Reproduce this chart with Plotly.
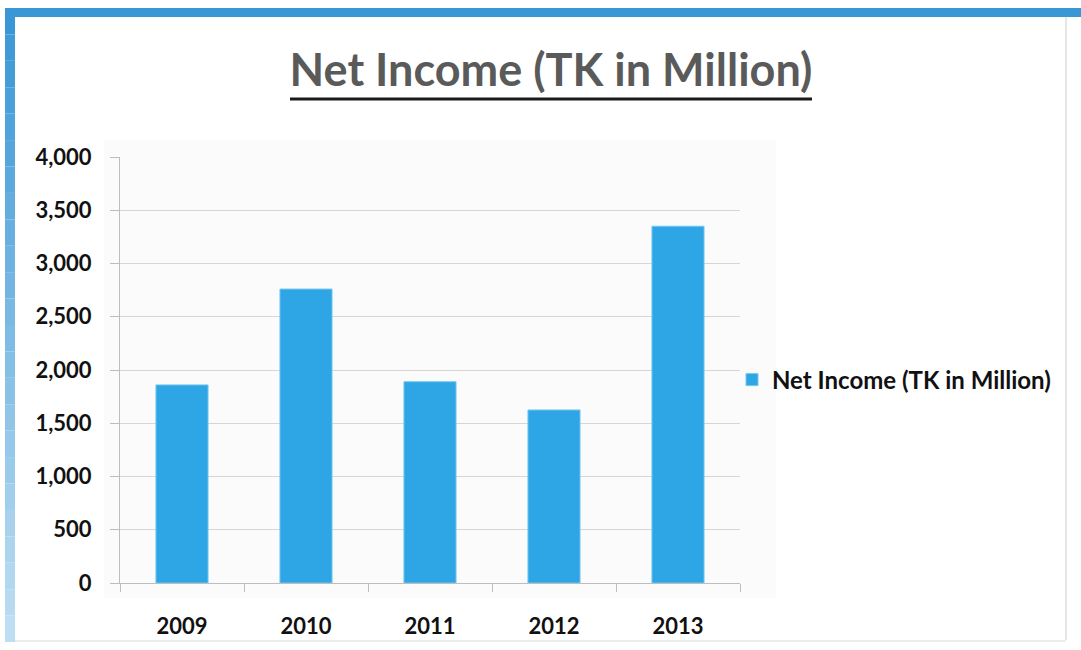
import plotly.graph_objects as go

# Net income by year (TK in million)
years = ["2009", "2010", "2011", "2012", "2013"]
net_income = [1860, 2760, 1890, 1625, 3350]
y_ticks = [0, 500, 1000, 1500, 2000, 2500, 3000, 3500, 4000]
y_tick_text = ["0", "500", "1,000", "1,500", "2,000", "2,500", "3,000", "3,500", "4,000"]

W, H = 1081, 650
L, R, T, B = 120, 341, 157, 67  # plot-area margins in px
pw, ph = W - L - R, H - T - B


def px_x(x):
    return (x - L) / pw


def px_y(y):
    return (H - B - y) / ph


FONT = "Lato"
BAR = "#2ea6e6"
FRAME = "#3a97d6"

fig = go.Figure()
fig.add_trace(go.Bar(
    x=years, y=net_income, name="Net Income (TK in Million)",
    marker=dict(color=BAR, line=dict(color="#74c8f0", width=1)),
    width=0.42,
))

shapes = [
    # chart area background
    dict(type="rect", xref="paper", yref="paper", layer="below",
         x0=px_x(104), x1=px_x(776), y0=px_y(140), y1=px_y(598),
         fillcolor="#fbfbfb", line=dict(width=0)),
    # title underline
    dict(type="line", xref="paper", yref="paper",
         x0=px_x(290), x1=px_x(812), y0=px_y(99), y1=px_y(99),
         line=dict(color="#1a1a1a", width=3)),
    # blue frame: top edge
    dict(type="rect", xref="paper", yref="paper",
         x0=px_x(5), x1=px_x(1081), y0=px_y(8), y1=px_y(17),
         fillcolor=FRAME, line=dict(width=0)),
    # faint right and bottom edges
    dict(type="line", xref="paper", yref="paper",
         x0=px_x(1066), x1=px_x(1066), y0=px_y(17), y1=px_y(640),
         line=dict(color="#e6e6e6", width=2)),
    dict(type="line", xref="paper", yref="paper",
         x0=px_x(15), x1=px_x(1066), y0=px_y(641), y1=px_y(641),
         line=dict(color="#ececec", width=2)),
]
# blue frame: left edge, fading downward
left_steps = 24
for i in range(left_steps):
    y0 = 8 + i * (642 - 8) / left_steps
    y1 = 8 + (i + 1) * (642 - 8) / left_steps
    t = i / (left_steps - 1)
    r = int(58 + (190 - 58) * t)
    g = int(151 + (222 - 151) * t)
    b = int(214 + (243 - 214) * t)
    shapes.append(dict(type="rect", xref="paper", yref="paper",
                       x0=px_x(5), x1=px_x(15), y0=px_y(y0), y1=px_y(y1),
                       fillcolor=f"rgb({r},{g},{b})", line=dict(width=0)))

TICK_FONT = dict(family=FONT, size=22, color="#111111", weight="bold")

fig.update_layout(
    width=W, height=H,
    margin=dict(l=L, r=R, t=T, b=B, autoexpand=False),
    paper_bgcolor="white", plot_bgcolor="rgba(0,0,0,0)",
    title=dict(text="<b>Net Income (TK in Million)</b>",
               x=551 / W, xref="container", xanchor="center",
               y=1 - 70 / H, yref="container", yanchor="middle",
               font=dict(family=FONT, size=45, color="#5a5a5a")),
    font=dict(family=FONT, size=22, color="#111111"),
    bargap=0.58,
    showlegend=True,
    legend=dict(x=px_x(732), y=px_y(380), xanchor="left", yanchor="middle",
                bgcolor="rgba(0,0,0,0)", itemwidth=30,
                font=dict(family=FONT, size=24, color="#111111", weight="bold")),
    shapes=shapes,
)
fig.update_xaxes(
    showgrid=False, showline=True, linecolor="#bdbdbd", linewidth=1,
    ticks="outside", tickson="boundaries", ticklen=8, tickcolor="#bdbdbd",
    tickfont=TICK_FONT, automargin=False,
    ticklabelstandoff=24,
)
fig.update_yaxes(
    range=[0, 4000], tickvals=y_ticks, ticktext=y_tick_text,
    showgrid=True, gridcolor="#d6d6d6", gridwidth=1,
    showline=True, linecolor="#bdbdbd", linewidth=1,
    ticks="outside", ticklen=9, tickcolor="#bdbdbd",
    tickfont=TICK_FONT, automargin=False,
    ticklabelstandoff=14, zeroline=False,
)

fig.write_html("out.html")
